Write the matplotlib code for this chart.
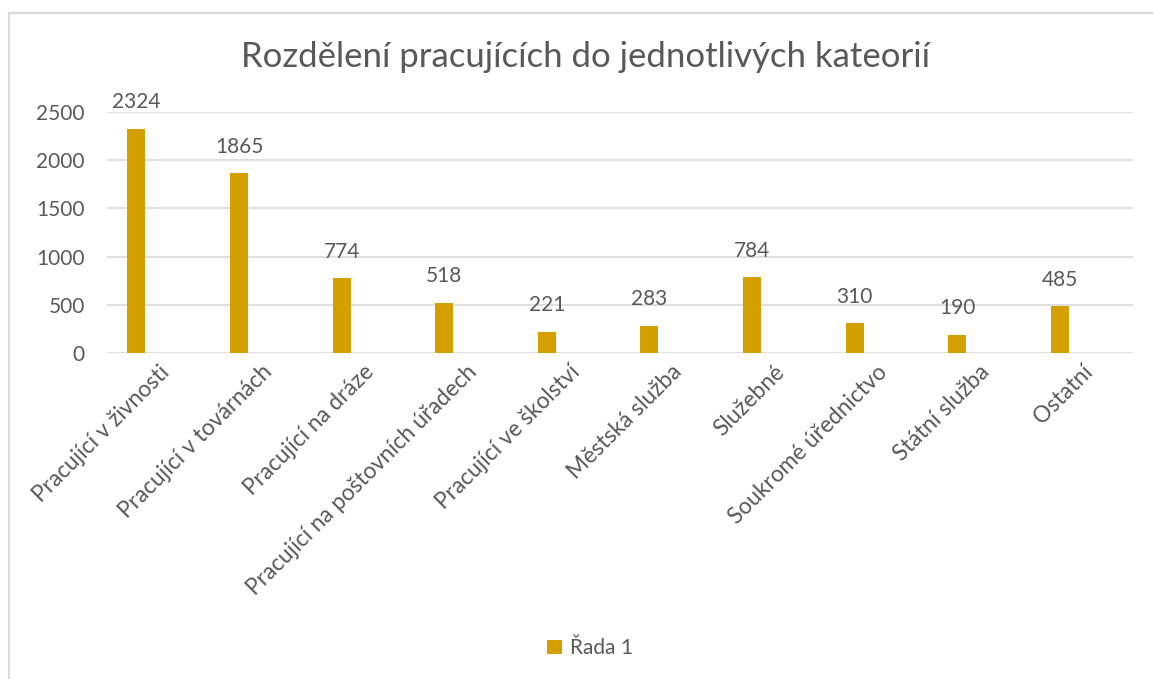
import matplotlib.pyplot as plt
import numpy as np

categories = [
    'Pracující v živnosti', 'Pracující v továrnách', 'Pracující na dráze',
    'Pracující na poštovních úřadech', 'Pracující ve školství', 'Městská služba',
    'Služebné', 'Soukromé úřednictvo', 'Státní služba', 'Ostatní'
]
values = [2324, 1865, 774, 518, 221, 283, 784, 310, 190, 485]
series_name = 'Řada 1'

plt.rcParams['font.family'] = ['Lato', 'DejaVu Sans']
text_color = '#595959'
bar_color = '#D4A000'

fig = plt.figure(figsize=(11.53, 6.79), dpi=100)
ax = fig.add_axes([0.0928, 0.480, 0.890, 0.355])

x = np.arange(len(categories))
offset = -0.214
bars = ax.bar(x + offset, values, width=0.175, color=bar_color, label=series_name, zorder=3)

for xi, v in zip(x, values):
    ax.annotate(str(v), (xi + offset, v), xytext=(0, 12), textcoords='offset points',
                ha='center', va='bottom', fontsize=15, color=text_color, annotation_clip=False)

ax.set_xlim(-0.5, len(categories) - 0.5)
ax.set_ylim(0, 2500)
ax.set_yticks(range(0, 2501, 500))
ax.yaxis.grid(True, color='#D9D9D9', linewidth=1.2, zorder=0)
ax.set_xticks(x)
ax.set_xticklabels(categories, rotation=45, ha='right', va='top', rotation_mode='anchor',
                   fontsize=16.3, color=text_color)
ax.tick_params(axis='y', length=0, pad=16, labelsize=15, labelcolor=text_color)
ax.tick_params(axis='x', length=0, pad=6)
for s in ax.spines.values():
    s.set_visible(False)

fig.suptitle('Rozdělení pracujících do jednotlivých kateorií', x=0.508, y=0.94,
             fontsize=25, color=text_color)

fig.legend(handles=[bars], labels=[series_name], loc='center', bbox_to_anchor=(0.512, 0.045),
           frameon=False, fontsize=15, labelcolor=text_color, handlelength=0.7, handleheight=0.7,
           handletextpad=0.4)

# chart area border (left and top edges visible)
fig.add_artist(plt.Line2D([0.0078, 0.0078], [0, 0.981], color='#D9D9D9', linewidth=1.5))
fig.add_artist(plt.Line2D([0.0078, 1], [0.981, 0.981], color='#D9D9D9', linewidth=1.5))

fig.savefig('out.png', dpi=100, facecolor='white')
